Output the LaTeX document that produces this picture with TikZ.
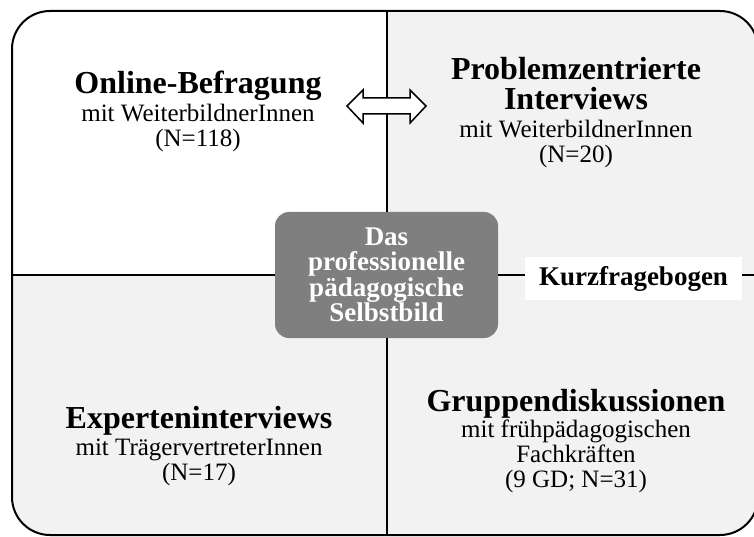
\documentclass[tikz,border=0pt]{standalone}
\usepackage{fontspec}
\setmainfont{Liberation Serif}
\definecolor{qgray}{HTML}{F2F2F2}
\definecolor{cgray}{HTML}{7F7F7F}
\newcommand{\tfont}{\fontsize{32}{34}\selectfont\bfseries}
\begin{document}
\begin{tikzpicture}[x=1pt,y=-1pt,
  block/.style={align=center, anchor=base, inner sep=0pt, font=\fontsize{25}{25}\selectfont},
  centerbox/.style={rounded corners=14pt, fill=cgray, text=white, align=center,
    font=\fontsize{27}{25.5}\selectfont\bfseries, minimum width=223pt, minimum height=126pt, inner sep=0pt},
  kbox/.style={fill=white, font=\fontsize{27}{27}\selectfont\bfseries, minimum width=217pt, minimum height=43pt, inner sep=0pt},
  divider/.style={line width=1.5pt, black},
  outline/.style={line width=2pt, black, rounded corners=38pt},
  dblarrow/.style={line width=1.5pt, black, fill=white, line join=miter}
]
\useasboundingbox (0,0) rectangle (754,537);
% backgrounds
\begin{scope}
  \clip[rounded corners=38pt] (12,11) rectangle (758,535);
  \fill[qgray] (0,0) rectangle (760,540);
  \fill[white] (12,11) rectangle (387,275);
\end{scope}
% named end points of the dividers
\coordinate (vtop) at (387,11);
\coordinate (vbot) at (387,535);
\coordinate (hleft) at (12,275);
\coordinate (hright) at (758,275);
% central box and Kurzfragebogen
\node[centerbox] (self) at (386.5,275) {Das\\professionelle\\pädagogische\\Selbstbild};
\node[kbox] (kurz) at (633.5,278.5) {Kurzfragebogen};
% dividers
\draw[divider] (vtop) -- (vtop |- self.north);
\draw[divider] (vbot |- self.south) -- (vbot);
\draw[divider] (hleft) -- (self.west |- hleft);
\draw[divider] (self.east |- hleft) -- (kurz.west |- hleft);
\draw[divider] (kurz.east |- hleft) -- (hright);
% outer border
\draw[outline] (12,11) rectangle (758,535);
% double arrow
\draw[dblarrow] (347,106) -- (363,90) -- (363,98) -- (410,98) -- (410,90) -- (426,106)
  -- (410,123) -- (410,114) -- (363,114) -- (363,123) -- cycle;
% text blocks (base anchor = baseline of the last line)
\node[block] (online) at (198,147) {{\tfont Online-Befragung}\\[3pt]mit WeiterbildnerInnen\\(N=118)};
\node[block] (pzi) at (576,163) {{\tfont Problemzentrierte}\\[5pt]{\tfont Interviews}\\[3pt]mit WeiterbildnerInnen\\(N=20)};
\node[block] (expert) at (199,480) {{\tfont Experteninterviews}\\[2pt]mit TrägervertreterInnen\\(N=17)};
\node[block] (gruppen) at (576,487) {{\tfont Gruppendiskussionen}\\[1pt]mit frühpädagogischen\\Fachkräften\\(9 GD; N=31)};
\end{tikzpicture}
\end{document}
